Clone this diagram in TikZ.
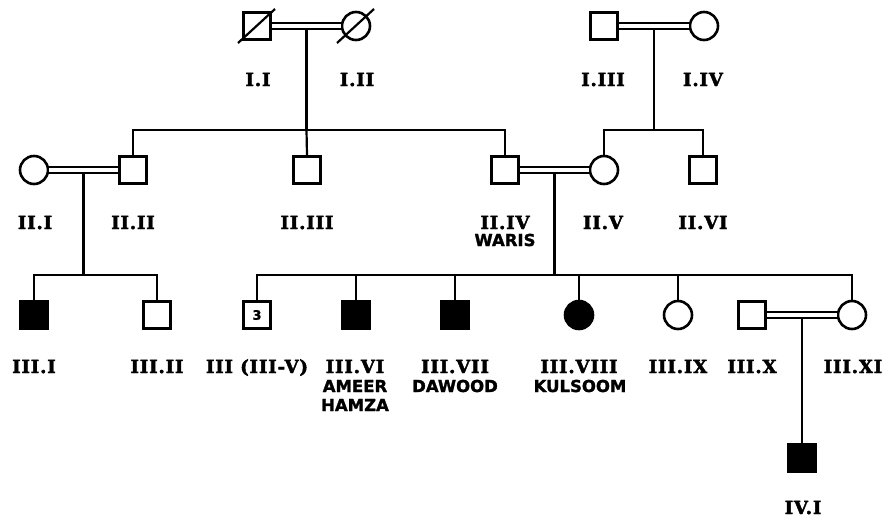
\documentclass[tikz,border=0pt]{standalone}
\usepackage{fontspec}
\setmainfont{DejaVu Serif}[LetterSpace=5, BoldFeatures={FakeBold=2.5}]
\newfontfamily\namefont{DejaVu Sans}[BoldFeatures={FakeBold=1.5}]
\usetikzlibrary{calc}
\tikzset{
  x=1pt, y=-1pt,
  ln/.style={line width=2.2pt},
  male/.style={draw, rectangle, minimum size=27pt, inner sep=0pt, line width=2.6pt},
  female/.style={draw, circle, minimum size=28pt, inner sep=0pt, line width=2.6pt},
  aff/.style={fill=black},
  mate/.style={draw, line width=2.2pt, double, double distance=4pt},
  lab/.style={font=\bfseries\fontsize{18}{20}\selectfont, inner sep=0pt, anchor=base},
  nm/.style={font=\namefont\bfseries\fontsize{16.5}{18}\selectfont, inner sep=0pt, anchor=base},
}
\begin{document}
\begin{tikzpicture}
\useasboundingbox (0,0) rectangle (885,520);

% ---------- generation I ----------
\node[male]   (I1) at (257,26) {};
\node[female] (I2) at (356,26) {};
\node[male]   (I3) at (604,26) {};
\node[female] (I4) at (704,26) {};
\draw[ln] ($(I1)+(-19,17)$) -- ($(I1)+(18,-17)$);
\draw[ln] ($(I2)+(-19,17)$) -- ($(I2)+(18,-17)$);
\draw[mate] (I1.east) -- (I2.west);
\draw[mate] (I3.east) -- (I4.west);
\coordinate (m1) at ($(I1)!0.5!(I2)+(0,4)$);
\coordinate (m2) at ($(I3)!0.5!(I4)+(0,4)$);

\node[lab] (lI1) at (258,86) {I.I};
\node[lab] (lI2) at (357,86) {I.II};
\node[lab] (lI3) at (603,86) {I.III};
\node[lab] (lI4) at (703,86) {I.IV};

% ---------- generation II ----------
\node[female] (II1) at (34,170) {};
\node[male]   (II2) at (133,170) {};
\node[male]   (II3) at (307,170) {};
\node[male]   (II4) at (505,170) {};
\node[female] (II5) at (604,170) {};
\node[male]   (II6) at (703,170) {};
\draw[mate] (II1.east) -- (II2.west);
\draw[mate] (II4.east) -- (II5.west);
\coordinate (m3) at ($(II1)!0.5!(II2)+(0,4)$);
\coordinate (m4) at ($(II4)!0.5!(II5)+(0,4)$);

% sibship of I.I x I.II
\coordinate (s1) at (m1 |- 0,130);
\draw[ln] (m1) -- (s1);
\draw[ln] (II2.north) |- (s1) -| (II4.north);
\draw[ln] (s1) -- (II3.north);
% sibship of I.III x I.IV
\coordinate (s2) at (m2 |- 0,130);
\draw[ln] (m2) -- (s2);
\draw[ln] (II5.north) |- (s2) -| (II6.north);

\node[lab] (lII1) at (35,229) {II.I};
\node[lab] (lII2) at (133,229) {II.II};
\node[lab] (lII3) at (307,229) {II.III};
\node[lab] (lII4) at (505,229) {II.IV};
\node[nm]  (nII4) at (505,246) {WARIS};
\node[lab] (lII5) at (603,229) {II.V};
\node[lab] (lII6) at (703,229) {II.VI};

% ---------- generation III ----------
\node[male, aff]   (III1) at (34,315) {};
\node[male]        (III2) at (157,315) {};
\node[male]        (III3) at (257,315) {\namefont\bfseries\fontsize{13}{14}\selectfont 3};
\node[male, aff]   (III6) at (356,315) {};
\node[male, aff]   (III7) at (455,315) {};
\node[female, aff] (III8) at (579,315) {};
\node[female]      (III9) at (678,315) {};
\node[male]        (III10) at (752,315) {};
\node[female]      (III11) at (852,315) {};
\draw[mate] (III10.east) -- (III11.west);
\coordinate (m5) at ($(III10)!0.5!(III11)+(0,3.5)$);

% sibship of II.I x II.II
\coordinate (s3) at (m3 |- 0,275);
\draw[ln] (m3) -- (s3);
\draw[ln] (III1.north) |- (s3) -| (III2.north);
% sibship of II.IV x II.V
\coordinate (s4) at (m4 |- 0,275);
\draw[ln] (m4) -- (s4);
\draw[ln] (III3.north) |- (s4) -| (III11.north);
\draw[ln] (III6.north) -- (III6.north |- s4);
\draw[ln] (III7.north) -- (III7.north |- s4);
\draw[ln] (III8.north) -- (III8.north |- s4);
\draw[ln] (III9.north) -- (III9.north |- s4);

\node[lab] (lIII1) at (34,373) {III.I};
\node[lab] (lIII2) at (157,373) {III.II};
\node[lab] (lIII3) at (257,373) {III (III-V)};
\node[lab] (lIII6) at (355,373) {III.VI};
\node[nm]  (nIII6a) at (355,392) {AMEER};
\node[nm]  (nIII6b) at (355,411) {HAMZA};
\node[lab] (lIII7) at (455,373) {III.VII};
\node[nm]  (nIII7) at (455,392) {DAWOOD};
\node[lab] (lIII8) at (579,373) {III.VIII};
\node[nm]  (nIII8) at (580,392) {KULSOOM};
\node[lab] (lIII9) at (678,373) {III.IX};
\node[lab] (lIII10) at (752,373) {III.X};
\node[lab] (lIII11) at (853,373) {III.XI};

% ---------- generation IV ----------
\node[male, aff] (IV1) at (802,458) {};
\draw[ln] (m5) -- (IV1.north);
\node[lab] (lIV1) at (803,514) {IV.I};
\end{tikzpicture}
\end{document}
